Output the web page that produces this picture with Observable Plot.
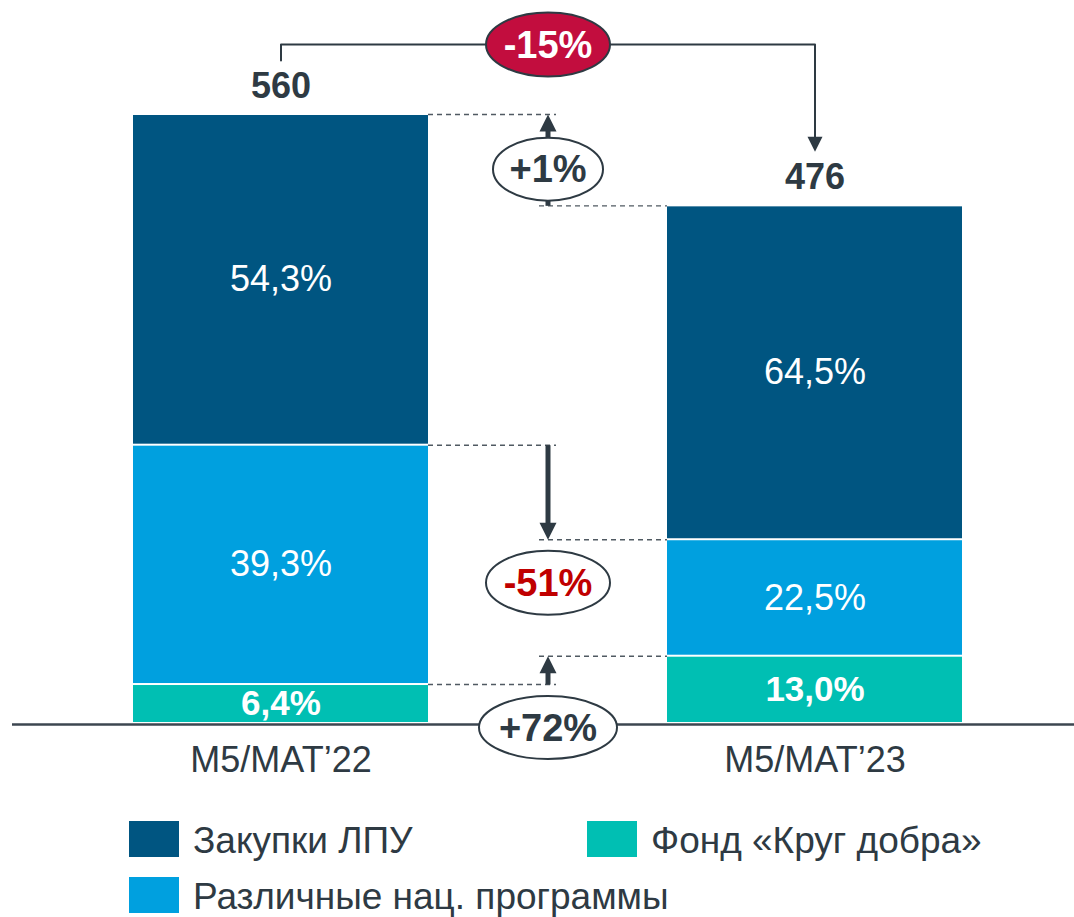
<!DOCTYPE html>
<html><head><meta charset="utf-8">
<script src="https://cdn.jsdelivr.net/npm/d3@7"></script>
<script src="https://cdn.jsdelivr.net/npm/@observablehq/plot@0.6"></script>
<style>
body{margin:0;background:#fff;font-family:"Liberation Sans",Arial,sans-serif;}
#wrap{position:relative;width:1074px;height:917px;overflow:hidden;}
#chart svg{display:block}
.lg{position:absolute;display:flex;align-items:center;height:36px;white-space:nowrap;}
.lg .sw{width:50px;height:36px;margin-right:14px;flex:none}
.lg span{font-size:37px;line-height:36px;color:#2E3A43;padding-top:3px}
</style></head><body><div id="wrap"><div id="chart"></div></div>
<script>
// ---------- data ----------
const categories = ["M5/MAT’22", "M5/MAT’23"];
const totals = [560, 476];
const seriesNames = ["Фонд «Круг добра»", "Различные нац. программы", "Закупки ЛПУ"]; // bottom → top
const sharesFond = [6.4, 13.0];
const sharesNational = [39.3, 22.5];
const sharesLPU = [54.3, 64.5];
const changeLabels = ["+72%", "-51%", "+1%"]; // same order as seriesNames
const totalChangeLabel = "-15%";
const legendOrder = ["Закупки ЛПУ", "Фонд «Круг добра»", "Различные нац. программы"];
const seriesColors = ["#00BFB3", "#00A0DF", "#005581"];

// ---------- derived ----------
const dark = "#2E3A43";
const shareArrays = [sharesFond, sharesNational, sharesLPU];
const rows = [];
categories.forEach((c, i) => {
  let acc = 0;
  seriesNames.forEach((s, k) => {
    const share = shareArrays[k][i];
    const v = totals[i] * share / 100;
    rows.push({i, cat: c, series: s, k, share, y1: acc, y2: acc + v});
    acc += v;
  });
});
const topOf = (i, k) => rows.find(r => r.i === i && r.k === k).y2;
const fmt = v => v.toFixed(1).replace(".", ",") + "%";

const yDomain = [0, d3.max(totals)];
const yRange = [723, 114];
const ppu = (yRange[0] - yRange[1]) / (yDomain[1] - yDomain[0]); // px per unit
const xRange = [280.5, 814.5];
const hw = 147.5 / (xRange[1] - xRange[0]);
const gap = 8.5 / (xRange[1] - xRange[0]);

// dashed connectors
const dashes = [];
seriesNames.forEach((s, k) => {
  dashes.push({y: topOf(0, k), x1: hw, x2: 0.5 + gap});
  dashes.push({y: topOf(1, k), x1: 0.5 - gap, x2: 1 - hw});
});

// change arrows
const headLen = 17;
const arrows = seriesNames.map((s, k) => {
  const a = topOf(0, k), b = topOf(1, k);
  const tip = k === 2 ? Math.max(a, b) : b;
  const tail = k === 2 ? Math.min(a, b) : a;
  const up = tip > tail;
  return {k, tip, tail, up, base: tip - (up ? 1 : -1) * (headLen - 2) / ppu};
});

function headSymbol(w, h) {
  return {draw(ctx) { ctx.moveTo(0, 0); ctx.lineTo(w / 2, h); ctx.lineTo(-w / 2, h); ctx.closePath(); }};
}
function ellipseSymbol(rx, ry) {
  const c = 0.5522847;
  return {draw(ctx) {
    ctx.moveTo(rx, 0);
    ctx.bezierCurveTo(rx, c * ry, c * rx, ry, 0, ry);
    ctx.bezierCurveTo(-c * rx, ry, -rx, c * ry, -rx, 0);
    ctx.bezierCurveTo(-rx, -c * ry, -c * rx, -ry, 0, -ry);
    ctx.bezierCurveTo(c * rx, -ry, rx, -c * ry, rx, 0);
    ctx.closePath();
  }};
}

// top bracket (total change)
const bracketHead = 15;
const leftEnd = totals[0] + 54 / ppu;
const rightTip = totals[1] + 54 / ppu;
const level = d3.max(totals) + 70 / ppu;
const bracket = [
  {x: 0, y: leftEnd}, {x: 0, y: level}, {x: 1, y: level}, {x: 1, y: rightTip + (bracketHead - 2) / ppu}
];

// annotation ellipses
const annotations = [
  {label: changeLabels[2], y: (topOf(0, 2) + topOf(1, 2)) / 2, dy: 9, rx: 55, ry: 31.5, fill: "white", color: dark},
  {label: changeLabels[1], y: topOf(1, 1), dy: 43, rx: 62, ry: 32, fill: "white", color: "#C00000"},
  {label: changeLabels[0], y: 0, dy: 4, rx: 69, ry: 31.5, fill: "white", color: dark},
  {label: totalChangeLabel, y: d3.max(totals), dy: -70, rx: 62, ry: 32, fill: "#C20D3E", color: "white"}
];

const marks = [
  Plot.rect(rows, {x1: d => d.i - hw, x2: d => d.i + hw, y1: "y1", y2: "y2", fill: "series", insetTop: 1, insetBottom: 1}),
  Plot.text(rows.filter(d => d.k > 0), {x: "i", y: d => (d.y1 + d.y2) / 2, text: d => fmt(d.share), fill: "white", fontSize: 36}),
  Plot.text(rows.filter(d => d.k === 0), {x: "i", y: d => (d.y1 + d.y2) / 2, text: d => fmt(d.share), fill: "white", fontSize: 35, fontWeight: "bold"}),
  Plot.ruleY([0], {stroke: "#3C4650", strokeWidth: 2.5, dy: 1}),
  Plot.text(totals.map((t, i) => ({i, t})), {x: "i", y: "t", text: d => String(d.t), dy: -28, fontSize: 36, fontWeight: "bold", fill: dark}),
  Plot.text(categories, {x: (d, i) => i, y: 0, text: d => d, dy: 37, fontSize: 36, fill: dark}),
  Plot.ruleY(dashes, {y: "y", x1: "x1", x2: "x2", stroke: "#505a62", strokeWidth: 1.4, strokeDasharray: "5,4"}),
  Plot.link(arrows, {x1: 0.5, x2: 0.5, y1: "tail", y2: "base", stroke: dark, strokeWidth: 5}),
  Plot.dot(arrows, {x: 0.5, y: "tip", symbol: headSymbol(17, headLen), rotate: d => d.up ? 0 : 180, fill: dark, stroke: "none"}),
  Plot.line(bracket, {x: "x", y: "y", stroke: dark, strokeWidth: 2}),
  Plot.dot([{x: 1, y: rightTip}], {x: "x", y: "y", symbol: headSymbol(15, bracketHead), rotate: 180, fill: dark, stroke: "none"}),
  ...annotations.flatMap(a => [
    Plot.dot([a], {x: 0.5, y: "y", dy: a.dy, symbol: ellipseSymbol(a.rx, a.ry), fill: a.fill, stroke: dark, strokeWidth: 2}),
    Plot.text([a], {x: 0.5, y: "y", dy: a.dy + 1, text: "label", fill: a.color, fontSize: 38, fontWeight: "bold"})
  ])
];

const chart = Plot.plot({
  width: 1074, height: 800,
  marginLeft: 12, marginRight: 0, marginTop: 0, marginBottom: 0,
  x: {type: "linear", domain: [0, 1], range: xRange, axis: null},
  y: {domain: yDomain, range: yRange, axis: null},
  color: {domain: seriesNames, range: seriesColors},
  style: {fontFamily: "'Liberation Sans', Arial, sans-serif", background: "white", overflow: "visible"},
  marks
});
document.getElementById("chart").appendChild(chart);

// legend
const lgLeft = [129, 587];
const wrap = d3.select("#wrap");
legendOrder.forEach((name, j) => {
  const col = j === 1 ? 1 : 0, row = j === 2 ? 1 : 0;
  const item = wrap.append("div").attr("class", "lg")
    .style("left", lgLeft[col] + "px").style("top", (821 + row * 56) + "px");
  item.append("div").attr("class", "sw").style("background", seriesColors[seriesNames.indexOf(name)]);
  item.append("span").text(name);
});
</script></body></html>
